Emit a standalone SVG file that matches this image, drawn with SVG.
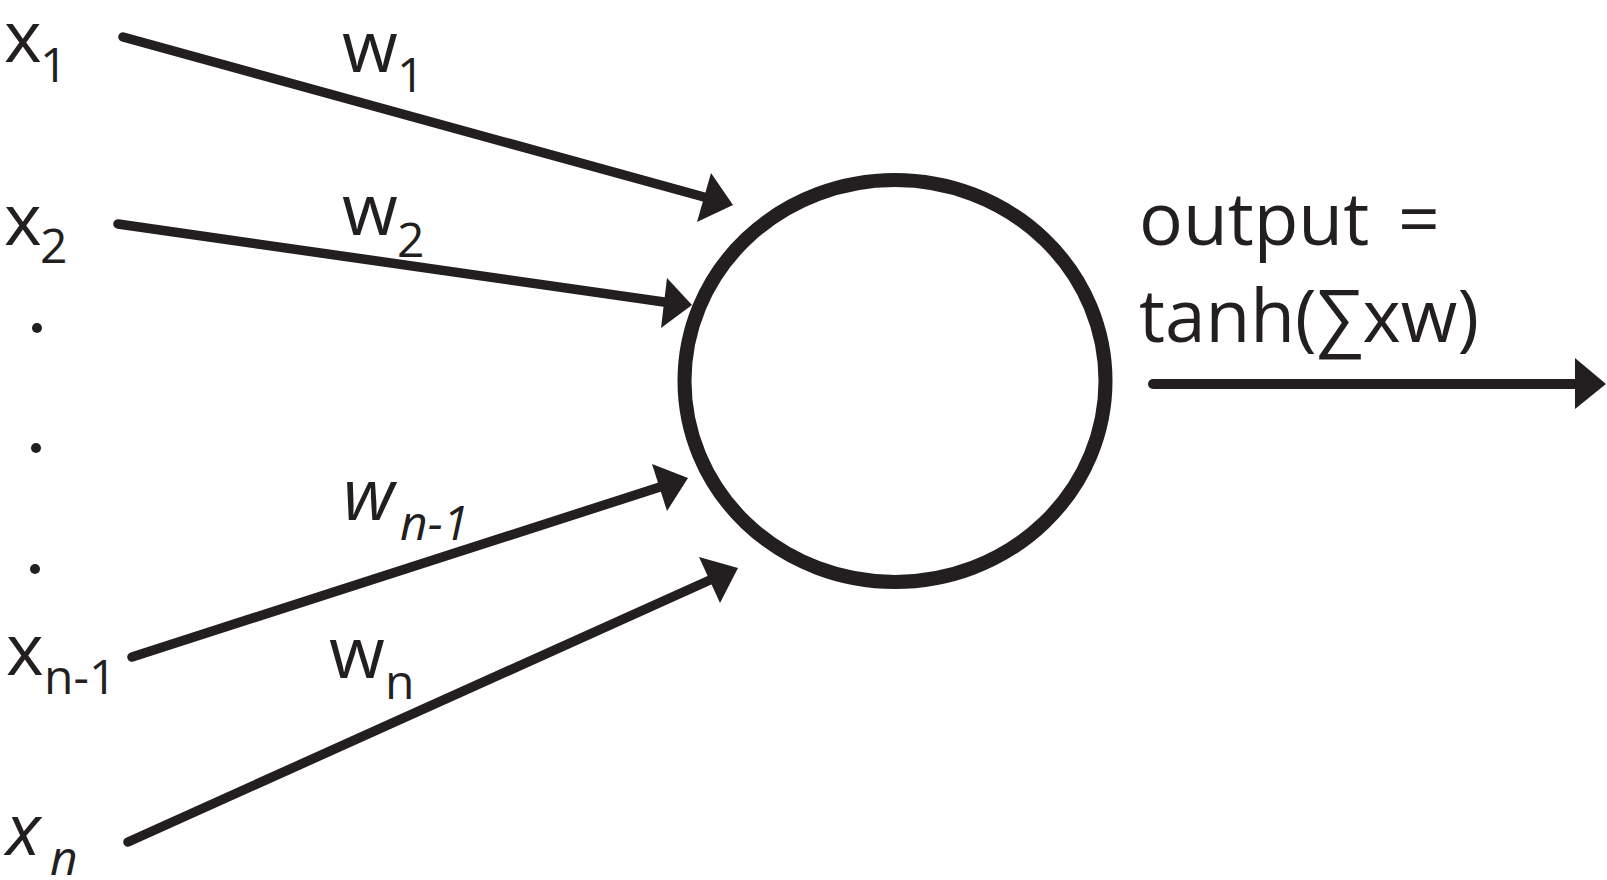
<svg xmlns="http://www.w3.org/2000/svg" width="1607" height="880" viewBox="0 0 1607 880">
<style>
text{font-family:"Open Sans","Noto Sans","DejaVu Sans",sans-serif;fill:#231f20}
.big{font-size:72px}
.sub{font-size:48px}
.it{font-style:italic}
.out{font-size:73px}
.edge{stroke:#231f20;stroke-width:9.5;stroke-linecap:round;fill:none}
.head{fill:#231f20}
</style>
<rect width="1607" height="880" fill="#fff"/>
<g id="connectors">
  <line class="edge" x1="123" y1="37" x2="704" y2="197"/>
  <polygon class="head" points="711,173 733,205 697,222"/>
  <line class="edge" x1="118" y1="224" x2="664" y2="302"/>
  <polygon class="head" points="667,278 692,305 661,328"/>
  <line class="edge" x1="132" y1="657" x2="660" y2="487"/>
  <polygon class="head" points="652,464 688,478 667,511"/>
  <line class="edge" x1="128" y1="842" x2="710" y2="580"/>
  <polygon class="head" points="699,557 738,568 720,603"/>
  <line class="edge" x1="1153" y1="384" x2="1578" y2="384" style="stroke-width:10"/>
  <polygon class="head" points="1575,358 1606,384 1575,409"/>
</g>
<g id="neuron">
  <ellipse cx="895" cy="381" rx="210.5" ry="201" fill="none" stroke="#231f20" stroke-width="14"/>
</g>
<g id="x1"><text class="big" x="4" y="62">x</text><text class="sub" x="40" y="82">1</text></g>
<g id="x2"><text class="big" x="4" y="245">x</text><text class="sub" x="40" y="263">2</text></g>
<g id="dots">
  <circle cx="37" cy="328" r="5" fill="#231f20"/>
  <circle cx="36" cy="448" r="5" fill="#231f20"/>
  <circle cx="35" cy="569" r="5" fill="#231f20"/>
</g>
<g id="xn1"><text class="big" x="6" y="675">x</text><text class="sub" x="44" y="694">n-1</text></g>
<g id="xn"><text class="big it" x="6" y="855">x</text><text class="sub it" x="50" y="875">n</text></g>
<g id="w1"><text class="big" x="342" y="72">w</text><text class="sub" x="397" y="92">1</text></g>
<g id="w2"><text class="big" x="342" y="235">w</text><text class="sub" x="397" y="257">2</text></g>
<g id="wn1"><text class="big it" x="343" y="520">w</text><text class="sub it" x="400" y="540">n-1</text></g>
<g id="wn"><text class="big" x="329" y="678">w</text><text class="sub" x="385" y="699">n</text></g>
<g id="output">
  <text class="out" x="1139" y="245" word-spacing="10">output =</text>
  <text class="out" x="1139" y="342">tanh(∑xw)</text>
</g>
</svg>
